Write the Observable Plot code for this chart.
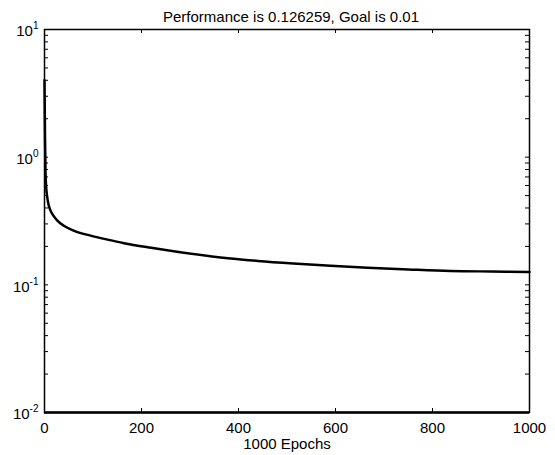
<!DOCTYPE html>
<html><head><meta charset="utf-8">
<script src="https://cdn.jsdelivr.net/npm/d3@7"></script>
<script src="https://cdn.jsdelivr.net/npm/@observablehq/plot@0.6"></script>
<style>body{margin:0;background:#fff}</style>
</head><body><div id="chart"></div>
<script>
const titleText = "Performance is 0.126259, Goal is 0.01";
const xLabel = "1000 Epochs";
const goal = 0.01;
const epochs = [0,1,2,3,5.5,8,12,18,26,40,60,95,130,164,220,280,363,440,513,590,666,750,837,920,1000];
const perf = [4.0,1.5,0.8,0.62,0.49,0.43,0.385,0.35,0.32,0.29,0.266,0.243,0.226,0.212,0.195,0.18,0.164,0.154,0.147,0.141,0.136,0.132,0.1285,0.1272,0.126259];
const xTicks = [0,200,400,600,800,1000];
const yMajor = [0.01,0.1,1,10];
const yExp = ["-2","-1","0","1"];

const W = 555, H = 455, ml = 44, mr = 26, mt = 29, mb = 43;
const pw = W - ml - mr, ph = H - mt - mb;
const yAll = [];
for (let i = 0; i < yMajor.length - 1; i++) for (let k = 1; k <= 9; k++) yAll.push(yMajor[i] * k);
yAll.push(yMajor[yMajor.length - 1]);
const data = epochs.map((e, i) => ({epoch: e, perf: perf[i]}));

const chart = Plot.plot({
  width: W, height: H, marginLeft: ml, marginRight: mr, marginTop: mt, marginBottom: mb,
  style: {fontFamily: "'Liberation Sans', Arial, sans-serif", fontSize: "15px", color: "black", background: "white", overflow: "visible"},
  x: {domain: [0, 1000]},
  y: {type: "log", domain: [0.01, 10]},
  marks: [
    Plot.axisX({ticks: xTicks, tickSize: 0, tickPadding: 10, tickFormat: d => String(d), label: null, fontSize: 15}),
    Plot.axisY({ticks: yMajor, tickSize: 0, tickPadding: 6, dy: 2, tickFormat: d => "10|" + yExp[yMajor.indexOf(d)], label: null, fontSize: 15}),
    Plot.tickX(xTicks, {x: d => d, insetTop: ph - 4, stroke: "black", strokeWidth: 1}),
    Plot.tickX(xTicks, {x: d => d, insetBottom: ph - 4, stroke: "black", strokeWidth: 1}),
    Plot.tickY(yAll, {y: d => d, insetRight: pw - 4, stroke: "black", strokeWidth: 1}),
    Plot.tickY(yAll, {y: d => d, insetLeft: pw - 4, stroke: "black", strokeWidth: 1}),
    Plot.frame({stroke: "black", strokeWidth: 1.5}),
    Plot.ruleY([goal], {stroke: "black", strokeWidth: 2.5}),
    Plot.line(data, {x: "epoch", y: "perf", stroke: "black", strokeWidth: 2.5, curve: "monotone-x"}),
    Plot.text([titleText], {text: d => d, frameAnchor: "top", dy: -18, dx: 4, fontSize: 15, fill: "black"}),
    Plot.text([xLabel], {text: d => d, frameAnchor: "bottom", dy: 36, fontSize: 15, fill: "black"})
  ]
});

d3.select(chart).selectAll('g[aria-label="y-axis tick label"] text').each(function() {
  const t = d3.select(this);
  const parts = t.text().split("|");
  if (parts.length === 2) {
    t.text(parts[0]);
    t.append("tspan").attr("dy", "-7").attr("font-size", "10px").text(parts[1]);
  }
});
document.getElementById("chart").appendChild(chart);
</script>
</body></html>
